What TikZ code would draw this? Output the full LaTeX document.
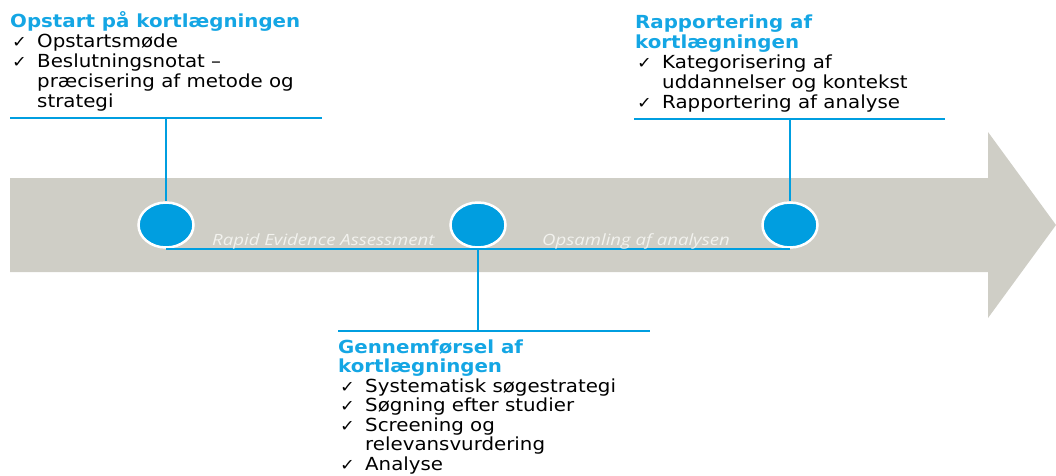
\documentclass[tikz,border=0pt]{standalone}
\usepackage{fontspec}
\setmainfont[FakeStretch=1.1]{DejaVu Sans}
\newfontfamily\labelfont[FakeStretch=1.2]{Open Sans}
\usetikzlibrary{positioning, shapes.geometric}
\definecolor{arrowgray}{RGB}{207,206,198}
\definecolor{lineblue}{RGB}{0,158,224}
\definecolor{titleblue}{RGB}{20,166,228}
\definecolor{labelwhite}{RGB}{242,242,238}
\newcommand{\chk}{\makebox[27pt][l]{\hspace{2pt}{\fontsize{16}{16}\selectfont ✓}}}
\newcommand{\ind}{\hspace*{27pt}}
\newcommand{\hd}[1]{{\bfseries\color{titleblue}#1}}

\begin{document}
\begin{tikzpicture}[x=1pt, y=-1pt,
    block/.style={align=left, inner sep=0pt, anchor=base west, font=\fontsize{18}{20}\selectfont},
    dot/.style={ellipse, draw=white, line width=2.5pt, fill=lineblue, minimum width=55pt, minimum height=45pt, inner sep=0pt},
    rule/.style={draw=lineblue, line width=2.5pt},
    phase/.style={anchor=base west, inner sep=0pt, text=labelwhite, font=\labelfont\itshape\fontsize{15.5}{17}\selectfont}]
  \useasboundingbox (0,0) rectangle (1056,475);
  % Arrow
  \fill[arrowgray] (10,178) -- (988,178) -- (988,132) -- (1056,225) -- (988,318)
    -- (988,272) -- (10,272) -- cycle;
  % Milestones
  \foreach \x/\n in {166/1, 478/2, 790/3}{
    \node[dot] (c\n) at (\x,225) {};
  }
  \draw[rule] (c1.south) -- (c3.south);
  \node[phase] (rea) at (212,245) {Rapid Evidence Assessment};
  \node[phase] (ops) at (542,245) {Opsamling af analysen};
  % Opstart (anchored at the last line)
  \node[block] (opstart) at (10,107) {\hd{Opstart på kortlægningen}\\
    \chk Opstartsmøde\\ \chk Beslutningsnotat –\\ \ind præcisering af metode og\\ \ind strategi};
  \coordinate (r1w) at (10,118); \coordinate (r1e) at (322,118); \coordinate (r1) at (166,118);
  \draw[rule] (r1w) -- (r1e); \draw[rule] (r1) -- (c1.north);
  % Rapportering
  \node[block] (rapport) at (635,108) {\hd{Rapportering af}\\ \hd{kortlægningen}\\
    \chk Kategorisering af\\ \ind uddannelser og kontekst\\ \chk Rapportering af analyse};
  \coordinate (r3w) at (634,119); \coordinate (r3e) at (945,119); \coordinate (r3) at (790,119);
  \draw[rule] (r3w) -- (r3e); \draw[rule] (r3) -- (c3.north);
  % Gennemfoersel
  \coordinate (r2w) at (338,331); \coordinate (r2e) at (650,331); \coordinate (r2) at (478,331);
  \draw[rule] (r2w) -- (r2e); \draw[rule] (c2.south) -- (r2);
  \node[block, font=\fontsize{18}{19.5}\selectfont] (gennem) at (338,470) {\hd{Gennemførsel af}\\ \hd{kortlægningen}\\
    \chk Systematisk søgestrategi\\ \chk Søgning efter studier\\ \chk Screening og\\
    \ind relevansvurdering\\ \chk Analyse};
\end{tikzpicture}
\end{document}
